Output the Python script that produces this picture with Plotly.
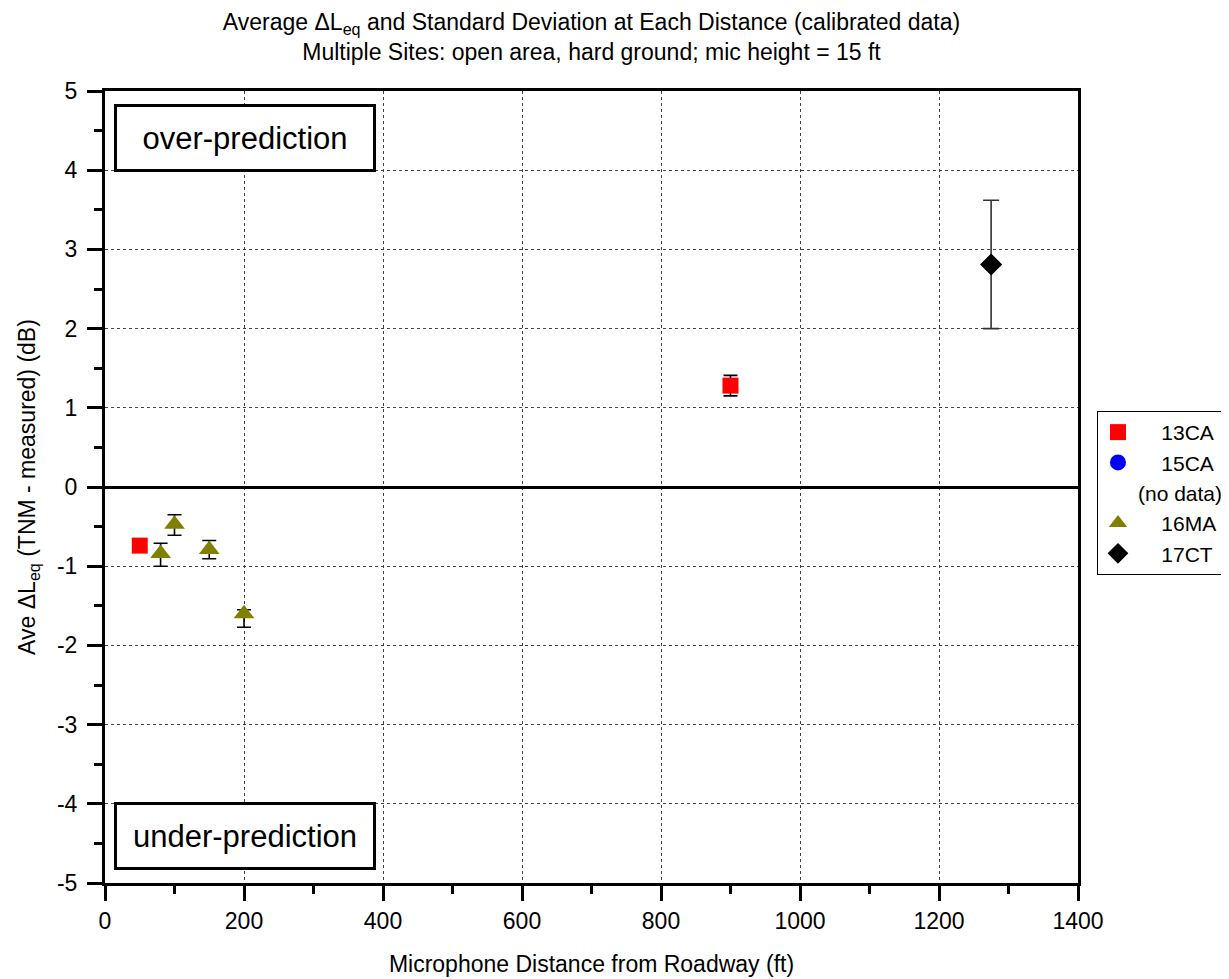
import plotly.graph_objects as go

# ---- data ----
ca13_x = [50, 900]
ca13_y = [-0.74, 1.28]
ca13_sd = [0.08, 0.13]

ca15_x = [None]
ca15_y = [None]

ma16_x = [80, 100, 150, 200]
ma16_y = [-0.84, -0.47, -0.79, -1.60]
ma16_sd_plus = [0.13, 0.12, 0.115, 0.05]
ma16_sd_minus = [0.16, 0.14, 0.115, 0.17]

ct17_x = [1275]
ct17_y = [2.81]
ct17_sd = [0.81]

x_ticks = [0, 200, 400, 600, 800, 1000, 1200, 1400]
y_ticks = [-5, -4, -3, -2, -1, 0, 1, 2, 3, 4, 5]
y_tick_labels = ["-5", "-4", "-3", "-2", "-1", "0", "1", "2", "3", "4", "5"]

FONT = "Liberation Sans, Arial, sans-serif"
PAD = "\u00a0\u00a0\u00a0\u00a0"

fig = go.Figure()

err_style = dict(color="black", thickness=1.6, width=7)

fig.add_trace(go.Scatter(
    x=ca13_x, y=ca13_y, mode="markers", name=PAD + "13CA",
    marker=dict(symbol="square", size=16, color="#ff0000"),
    error_y=dict(type="data", array=ca13_sd, visible=True, **err_style),
))
fig.add_trace(go.Scatter(
    x=ca15_x, y=ca15_y, mode="markers", name=PAD + "15CA",
    marker=dict(symbol="circle", size=16, color="#0000ff"),
))
fig.add_trace(go.Scatter(
    x=[None], y=[None], mode="markers", name="(no data)",
    marker=dict(symbol="circle", size=1, color="rgba(0,0,0,0)"),
))
fig.add_trace(go.Scatter(
    x=ma16_x, y=ma16_y, mode="markers", name=PAD + "16MA",
    marker=dict(symbol="triangle-up", size=18, color="#808000"),
    error_y=dict(type="data", symmetric=False, array=ma16_sd_plus,
                 arrayminus=ma16_sd_minus, visible=True, **err_style),
))
fig.add_trace(go.Scatter(
    x=ct17_x, y=ct17_y, mode="markers", name=PAD + "17CT",
    marker=dict(symbol="diamond", size=17, color="black"),
    error_y=dict(type="data", array=ct17_sd, visible=True,
                 color="#333333", thickness=1.6, width=8),
))

axis_common = dict(
    showline=True, linewidth=3, linecolor="black", mirror=True,
    ticks="outside", ticklen=15, tickwidth=3, tickcolor="black",
    showgrid=True, gridcolor="#444444", gridwidth=1, griddash="dot",
    tickfont=dict(size=23, color="black", family=FONT),
)

fig.update_xaxes(
    range=[0, 1400], tickvals=x_ticks,
    minor=dict(ticks="outside", ticklen=8, tickwidth=3, tickcolor="black",
               dtick=100, showgrid=False),
    title=dict(text="Microphone Distance from Roadway (ft)",
               font=dict(size=23, color="black", family=FONT), standoff=24),
    zeroline=False,
    **axis_common,
)
fig.update_yaxes(
    range=[-5, 5], tickvals=y_ticks, ticktext=y_tick_labels,
    minor=dict(ticks="outside", ticklen=8, tickwidth=3, tickcolor="black",
               dtick=0.5, showgrid=False),
    title=dict(text="Ave ΔL<sub>eq</sub> (TNM - measured) (dB)",
               font=dict(size=23, color="black", family=FONT), standoff=15),
    ticklabelstandoff=5,
    zeroline=True, zerolinecolor="black", zerolinewidth=3,
    **axis_common,
)

fig.update_layout(
    width=1221, height=971,
    margin=dict(l=97, r=151, t=83, b=96, autoexpand=False),
    paper_bgcolor="white", plot_bgcolor="white",
    font=dict(family=FONT, color="black"),
    title=dict(
        text="Average ΔL<sub>eq</sub> and Standard Deviation at Each Distance (calibrated data)<br>Multiple Sites: open area, hard ground; mic height = 15 ft",
        font=dict(size=23, color="black", family=FONT),
        x=0.5, xref="paper", xanchor="center", y=0.977, yanchor="top",
    ),
    showlegend=True,
    legend=dict(
        x=1.0195, y=0.596, xanchor="left", yanchor="top",
        bordercolor="black", borderwidth=1, bgcolor="white",
        font=dict(size=21, color="black", family=FONT),
        itemwidth=30, tracegroupgap=0,
    ),
    annotations=[
        dict(text="over-prediction", xref="paper", yref="paper",
             x=0.00925, y=0.9836, xanchor="left", yanchor="top",
             showarrow=False, font=dict(size=31, color="black", family=FONT),
             bordercolor="black", borderwidth=3, borderpad=2, bgcolor="white",
             width=252, height=58, align="center", valign="middle"),
        dict(text="under-prediction", xref="paper", yref="paper",
             x=0.00925, y=0.0164, xanchor="left", yanchor="bottom",
             showarrow=False, font=dict(size=31, color="black", family=FONT),
             bordercolor="black", borderwidth=3, borderpad=2, bgcolor="white",
             width=252, height=58, align="center", valign="middle"),
    ],
)

fig.write_html("out.html")
